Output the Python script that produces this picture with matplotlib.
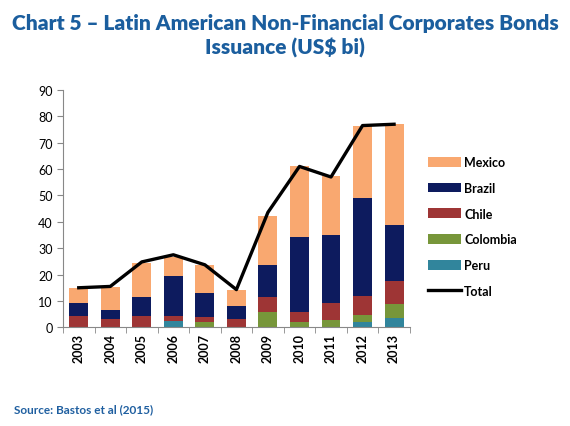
import numpy as np
import matplotlib
matplotlib.use('Agg')
import matplotlib.pyplot as plt

years = ['2003', '2004', '2005', '2006', '2007', '2008',
         '2009', '2010', '2011', '2012', '2013']
peru = [0, 0, 0, 2.3, 0, 0, 0, 0, 0, 1.9, 3.6]
colombia = [0, 0, 0, 0, 2.0, 0, 5.9, 1.9, 2.6, 2.9, 5.1]
chile = [4.3, 3.1, 4.3, 2.1, 2.0, 3.3, 5.7, 4.0, 6.6, 7.2, 8.9]
brazil = [4.8, 3.6, 7.1, 15.2, 9.0, 4.9, 12.0, 28.2, 25.9, 36.9, 21.3]
mexico = [5.7, 8.5, 12.9, 7.2, 10.7, 6.1, 18.7, 26.9, 22.2, 27.6, 38.2]
total = [15, 15.5, 24.8, 27.5, 23.7, 14.3, 43.6, 61, 57, 76.5, 77]

series = [('Peru', peru, '#31859C'),
          ('Colombia', colombia, '#77963A'),
          ('Chile', chile, '#9E3535'),
          ('Brazil', brazil, '#0D1B5E'),
          ('Mexico', mexico, '#F9A870')]

plt.rcParams['font.family'] = ['Lato', 'DejaVu Sans']

fig = plt.figure(figsize=(5.7, 4.27), dpi=100)
ax = fig.add_axes([0.1105, 0.2311, 0.6085, 0.5559])

x = np.arange(len(years))
bottom = np.zeros(len(years))
handles = {}
for name, vals, color in series:
    handles[name] = ax.bar(x, vals, 0.6, bottom=bottom, color=color, label=name)
    bottom += np.array(vals)
line, = ax.plot(x, total, color='black', linewidth=2.4, label='Total')

ax.set_xlim(-0.5, len(years) - 0.5)
ax.set_ylim(0, 90)
ax.set_yticks(range(0, 91, 10))
ax.set_xticks(x)
ax.set_xticklabels(years, rotation=90, fontsize=9, fontweight='bold')
ax.set_xticks(np.arange(-0.5, len(years), 1), minor=True)
ax.tick_params(axis='x', which='major', length=0, pad=4)
ax.tick_params(axis='x', which='minor', length=4, color='#888888')
ax.tick_params(axis='y', labelsize=9, length=4, color='#888888')
for s in ['top', 'right']:
    ax.spines[s].set_visible(False)
for s in ['left', 'bottom']:
    ax.spines[s].set_color('#888888')

order = ['Mexico', 'Brazil', 'Chile', 'Colombia', 'Peru']
leg = ax.legend([handles[n] for n in order] + [line], order + ['Total'],
                loc='center left', bbox_to_anchor=(1.02, 0.425), frameon=False,
                fontsize=9, handlelength=2.6, handleheight=0.8,
                labelspacing=1.1, handletextpad=0.3)
for t in leg.get_texts():
    t.set_fontweight('bold')

fig.text(0.5, 0.945, 'Chart 5 \u2013 Latin American Non-Financial Corporates Bonds',
         ha='center', va='center', fontsize=15, fontweight='heavy', color='#1B5E9E')
fig.text(0.5, 0.887, 'Issuance (US$ bi)', ha='center', va='center',
         fontsize=15, fontweight='heavy', color='#1B5E9E')
fig.text(0.025, 0.04, 'Source: Bastos et al (2015)', ha='left', va='center',
         fontsize=8.5, fontweight='bold', color='#1F5FA0')

fig.savefig('out.png', dpi=100)
